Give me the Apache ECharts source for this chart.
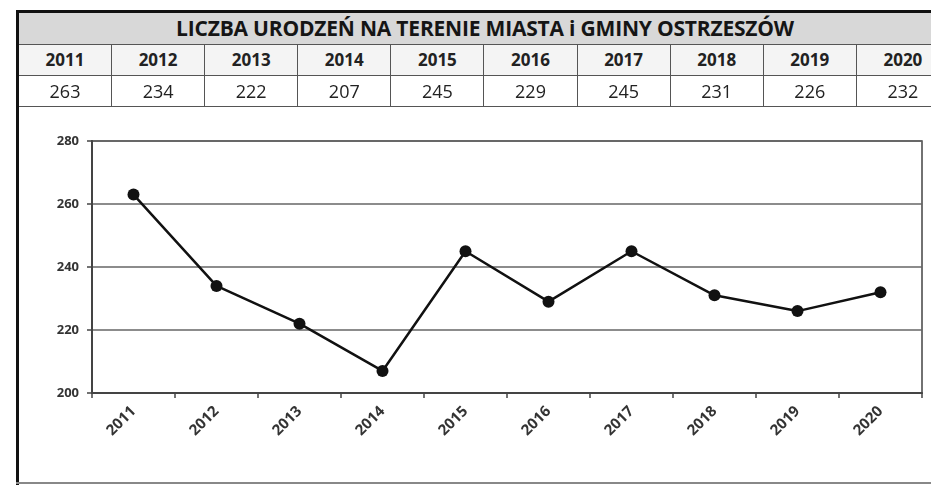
<!DOCTYPE html>
<html>
<head>
<meta charset="utf-8">
<script src="https://cdn.jsdelivr.net/npm/echarts@6/dist/echarts.min.js"></script>
<style>
html,body{margin:0;padding:0;background:#fff;}
#wrap{position:relative;width:931px;height:485px;overflow:hidden;background:#fff;}
#Chart{position:absolute;left:0;top:0;width:931px;height:485px;}
#frameL{position:absolute;left:16px;top:10px;width:3px;height:475px;background:#111;}
#frameT{position:absolute;left:16px;top:10px;width:915px;height:3px;background:#111;}
#frameB{position:absolute;left:16px;top:482px;width:915px;height:2px;background:#888;}
#title{position:absolute;left:19px;top:13px;width:912px;height:31px;background:#d8d8d8;border-bottom:1px solid #555;
  font-family:"Open Sans",sans-serif;font-weight:bold;font-size:21px;line-height:31px;color:#151515;text-align:center;text-indent:20px;letter-spacing:-0.2px;}
.row{position:absolute;left:19px;height:30px;}
.cell{position:absolute;top:0;width:93px;height:30px;line-height:30px;text-align:center;border-right:1.5px solid #555;box-sizing:border-box;
  font-family:"Open Sans",sans-serif;color:#222;}
#years{top:45px;background:#f4f4f4;border-bottom:1.5px solid #555;}
#years .cell{font-weight:bold;font-size:17px;}
#vals{top:76px;border-bottom:1.5px solid #555;height:30px;}
#vals .cell{font-size:18px;}
</style>
</head>
<body>
<div id="wrap">
  <div id="Chart"></div>
  <div id="title"></div>
  <div class="row" id="years"></div>
  <div class="row" id="vals"></div>
  <div id="frameT"></div>
  <div id="frameL"></div>
  <div id="frameB"></div>
</div>
<script>
var titleText="LICZBA URODZEŃ NA TERENIE MIASTA i GMINY OSTRZESZÓW"
var years=["2011","2012","2013","2014","2015","2016","2017","2018","2019","2020"]
var births=[263,234,222,207,245,229,245,231,226,232]
var yTicks=[200,220,240,260,280]

//tabela nad wykresem
function buildTable(){
	document.getElementById("title").innerHTML=titleText
	var yr=document.getElementById("years"),vl=document.getElementById("vals")
	var cw=93.1
	for(var i=0;i<years.length;i++){
		yr.innerHTML+="<div class='cell' style='left:"+(i*cw)+"px'>"+years[i]+"</div>"
		vl.innerHTML+="<div class='cell' style='left:"+(i*cw)+"px'>"+births[i]+"</div>"
	}
	yr.style.width="940px";vl.style.width="940px"
}

//wykres
function drawChar(){
	var myChart=echarts.init(document.getElementById('Chart'))
	var option={
		animation:false,
		grid:{
			left:92,right:9,top:141,bottom:92,
			show:true,borderColor:'#444',borderWidth:1.5
		},
		xAxis:{
			type:'category',
			data:years,
			boundaryGap:true,
			axisLine:{lineStyle:{color:'#444',width:2}},
			axisTick:{show:true,alignWithLabel:false,length:5,lineStyle:{color:'#444',width:1.5}},
			axisLabel:{
				rotate:45,margin:16,color:'#333',
				fontFamily:'Open Sans',fontSize:15,fontWeight:'bold'
			},
			splitLine:{show:false}
		},
		yAxis:{
			type:'value',
			min:yTicks[0],max:yTicks[yTicks.length-1],interval:20,
			axisLine:{show:true,lineStyle:{color:'#444',width:2}},
			axisTick:{show:true,length:5,lineStyle:{color:'#444',width:1.5}},
			axisLabel:{margin:13,color:'#333',fontFamily:'Open Sans',fontSize:13,fontWeight:'bold'},
			splitLine:{show:true,lineStyle:{color:'#666',width:1.5}}
		},
		series:[{
			type:'line',
			data:births,
			symbol:'circle',
			symbolSize:12,
			itemStyle:{color:'#111'},
			lineStyle:{color:'#111',width:2.5}
		}]
	}
	myChart.setOption(option)
}

buildTable()
drawChar()
</script>
</body>
</html>
